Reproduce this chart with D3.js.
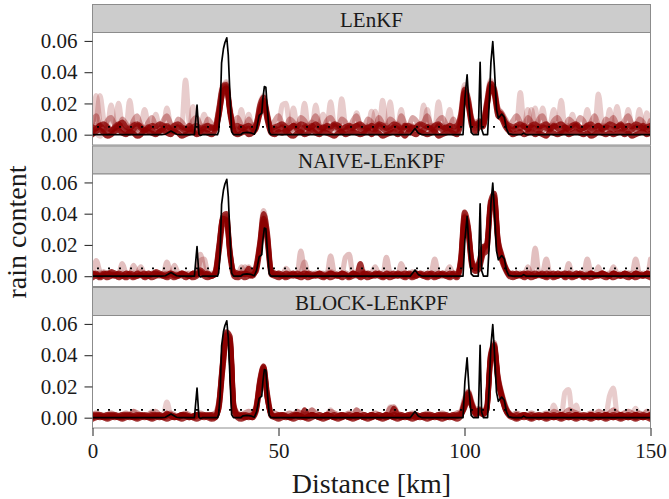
<!DOCTYPE html>
<html><head><meta charset="utf-8">
<script src="https://cdn.jsdelivr.net/npm/d3@7/dist/d3.min.js"></script>
<style>
body{margin:0;background:#fff}
svg{display:block}
</style>
</head><body>
<svg id="chart" width="669" height="499"></svg>
<script>
// ---------- data (rain content in units of 0.001) ----------
const methods = ["LEnKF", "NAIVE-LEnKPF", "BLOCK-LEnKPF"];
const distanceKm = d3.range(0, 151);           // 1 km grid for ensemble members
const xTicks = [0, 50, 100, 150];
const yTicks = [0, 0.02, 0.04, 0.06];
const threshold = 0.005;

// truth: [km, value*1000]
const truth = [
 [0,0],[18.6,0],[19.6,0.3],[21.1,2.3],[22.6,0.3],[23.5,0],[27.4,0],[28.1,19],[28.6,0.5],[29.0,-0.5],[29.5,0],
 [33.6,0],[33.9,2],[34.3,14],[34.7,46],[35.2,55],[35.6,59],[36.1,62],[36.5,51],[37.0,23],[37.4,2],[37.9,0],
 [39.8,0],[40.5,1.2],[41.5,1.5],[42.5,1.2],[43.5,0.3],[44.1,3.7],[44.8,12.3],[45.5,13.8],[45.8,23],[46.2,30.8],
 [46.6,30.4],[47.0,16.5],[47.5,1.6],[48,0],[85.4,0],[86.7,4],[87.6,1],[88.6,0],[99.6,0],[100.1,23],[100.7,38.3],
 [101.2,18.6],[101.8,1.5],[102.4,0],[103.7,0],[104.2,46.3],[104.6,3.6],[105.1,0],[106.2,0],[106.7,22.8],
 [107.1,46.3],[107.6,59.6],[108.0,44.2],[108.6,16.4],[109.1,10.5],[110.0,13.2],[110.7,11.1],[111.3,3.6],
 [111.9,0.5],[113,0],[115.3,0],[115.9,1],[116.6,0],[150,0]
];

const lenkfMembers = [
 [2,8,25,10,3,1,4,6,3,2, 5,7,4,2,1,3,5,6,4,2, 1,3,4,2,5,35,8,3,2,4, 6,3,2,5,16,30,33,14,4,2,
  3,5,4,2,6,18,24,12,3,2, 4,6,3,2,5,7,4,3,6,8, 5,3,2,4,6,5,3,23,6,3, 2,4,5,3,6,4,2,3,5,4,
  3,5,7,4,2,3,6,5,3,2, 4,6,3,5,4,2,3,5,4,12, 30,22,8,5,7,8,20,34,28,14, 12,7,4,3,5,27,6,4,3,5,
  6,4,3,5,7,4,3,2,5,6, 4,3,5,6,4,2,3,5,4,6, 5,3,4,6,5,3,2,4,5,3,2],
 [3,1,-1,2,4,19,6,3,1,2, 4,3,2,5,16,6,3,2,4,5, 3,2,4,6,3,2,1,18,5,3, 2,4,3,4,14,28,31,16,5,3,
  16,4,2,3,8,14,22,10,2,3, 5,19,20,6,3,4,5,2,3,4, 6,4,3,5,2,3,6,4,3,5, 4,14,5,3,4,6,3,2,22,5,
  3,4,2,5,6,3,4,3,6,4, 3,5,4,21,6,3,2,4,5,10, 26,20,7,4,6,6,18,32,30,16, 13,8,5,3,4,6,5,16,4,3,
  5,3,4,6,4,5,22,4,3,5, 6,4,3,2,5,4,26,7,3,4, 3,5,4,3,16,5,3,4,6,5,3],
 [1,25,8,3,5,4,2,3,6,4, 22,6,3,2,4,5,3,13,4,2, 3,5,6,4,2,3,4,2,3,5, 13,5,3,6,18,32,30,12,3,4,
  5,3,2,6,7,20,25,14,4,2, 3,4,6,5,17,5,3,4,6,3, 19,5,3,4,21,6,4,3,5,4, 3,2,4,5,3,15,4,5,3,2,
  21,5,3,4,6,5,3,4,2,19, 5,3,6,4,3,5,16,4,3,14, 32,24,10,6,8,7,22,35,27,12, 11,6,3,4,3,5,4,3,16,4,
  3,17,5,4,6,3,4,5,3,13, 4,5,3,6,4,5,3,4,6,3, 4,18,5,3,4,6,3,16,4,3,5],
 [4,6,3,2,1,3,5,20,6,4, 3,2,5,6,4,3,2,4,6,5, 17,6,4,3,2,4,5,3,2,3, 4,6,5,3,15,29,34,17,6,3,
  2,4,13,3,5,16,23,11,3,4, 6,3,4,2,3,6,5,20,4,3, 4,6,13,3,5,4,3,6,4,2, 3,5,6,4,3,2,15,4,5,6,
  4,3,5,16,3,4,5,3,6,5, 16,4,3,5,6,3,4,5,2,8, 24,18,6,4,9,7,16,30,29,17, 14,9,5,4,6,4,3,5,4,17,
  4,5,3,6,16,4,5,3,6,4, 5,3,4,16,5,3,4,6,3,16, 5,4,3,5,6,3,4,5,3,14,4],
 [5,4,6,7,5,3,4,6,8,5, 4,6,7,5,3,4,6,5,7,6, 5,4,6,7,5,4,3,5,6,4, 5,6,4,5,17,31,32,15,5,6,
  4,5,6,4,7,19,24,13,4,5, 6,7,5,4,6,5,7,6,4,5, 7,5,4,6,5,7,6,4,5,6, 5,6,7,5,4,6,5,7,6,4,
  5,7,6,4,5,6,4,5,7,6, 5,4,6,7,5,4,6,5,6,13, 29,23,9,7,8,9,21,33,29,15, 13,8,6,5,6,7,5,4,6,7,
  5,6,7,4,5,6,7,5,4,6, 7,5,4,6,7,5,6,4,5,7, 6,5,7,4,6,5,7,6,4,5,6],
 [0,2,3,1,-1,0,2,3,1,0, 2,1,-1,0,3,2,1,0,2,3, 1,0,2,1,-1,0,1,2,0,1, 2,1,0,3,12,27,30,13,2,0,
  1,2,0,1,4,13,20,9,1,0, 2,1,3,0,-1,1,2,0,1,3, 1,0,2,1,0,-1,1,2,0,1, 2,1,0,1,3,0,2,1,-1,0,
  1,2,0,1,-1,2,1,0,2,1, 0,1,2,-1,0,1,2,1,0,7, 27,19,5,2,5,5,17,31,26,12, 10,5,2,0,1,2,0,1,2,0,
  1,0,-1,2,1,0,1,2,0,1, 2,1,0,1,-1,0,2,1,0,1, 0,1,2,0,1,-1,0,1,2,0,1],
 [8,12,5,3,9,11,6,4,10,7, 3,9,12,6,4,8,11,5,3,9, 12,7,4,10,8,5,3,9,11,6, 4,10,7,5,16,30,31,14,8,11,
  6,4,10,5,6,17,21,10,5,9, 12,7,5,10,8,4,11,9,5,8, 12,6,4,9,11,7,5,10,8,4, 9,12,6,5,10,8,4,11,7,5,
  10,8,4,12,7,5,11,9,5,8, 12,6,4,9,11,7,5,10,6,11, 28,21,10,8,9,8,19,32,30,17, 14,10,6,9,12,8,5,11,8,4,
  10,12,6,5,9,11,7,4,10,8, 5,11,9,4,8,12,6,5,10,8, 11,6,4,9,12,7,5,10,8,4,9],
 [2,4,6,3,1,2,5,7,4,2, 1,3,6,4,2,5,3,1,2,4, 6,3,2,5,4,2,6,3,1,2, 4,3,5,4,13,26,29,15,3,2,
  5,3,4,2,5,15,22,12,2,4, 3,5,2,4,6,3,2,5,4,6, 3,2,5,4,3,6,4,2,3,5, 4,6,3,2,5,4,3,6,4,2,
  3,5,4,2,6,3,5,4,2,3, 5,4,2,6,3,5,4,2,3,9, 25,20,8,6,7,6,18,30,27,15, 12,7,4,3,5,4,6,3,5,4,
  2,5,4,3,6,4,2,5,3,4, 6,3,4,5,2,4,6,3,5,4, 3,5,6,4,2,3,5,4,6,3,4]
];

const naiveMembers = [
 [1,10,3,1,0,2,1,0,2,1, 0,2,1,3,1,0,2,1,0,1, 9,2,1,0,2,1,0,1,3,14, 4,1,0,2,17,36,39,14,2,1,
  3,6,2,1,5,19,38,26,3,1, 0,2,1,0,2,1,16,3,1,0, 2,1,0,1,3,2,1,0,2,1, 0,2,1,3,1,0,2,1,0,12,
  2,1,0,2,1,0,3,1,2,1, 0,2,1,0,2,1,0,2,1,10, 39,31,9,4,7,16,20,47,50,23, 12,5,2,1,0,2,1,2,1,18,
  2,1,0,2,1,0,2,1,0,1, 2,1,0,2,1,0,1,2,0,1, 2,1,0,1,2,1,11,2,1,0,1],
 [2,0,1,3,1,2,0,1,8,2, 1,7,2,0,1,2,1,0,2,1, 2,1,7,2,0,1,2,0,1,10, 11,2,1,3,19,37,38,16,3,2,
  1,2,6,2,4,21,42,27,4,2, 1,0,5,2,1,0,2,9,1,2, 0,1,2,0,13,2,1,0,2,1, 2,0,1,2,1,0,1,2,0,1,
  2,1,0,8,2,1,0,2,1,0, 1,2,11,1,0,2,1,0,2,11, 40,30,8,5,9,18,19,45,52,22, 13,6,2,0,1,2,0,1,2,1,
  0,2,11,1,0,2,1,0,8,1, 2,0,1,11,2,1,0,2,1,0, 6,2,1,0,2,1,0,2,1,0,11],
 [0,1,2,0,1,0,2,1,0,2, 1,0,2,6,1,0,2,1,0,2, 1,0,2,1,0,2,1,0,1,2, 1,0,2,1,16,35,37,13,1,0,
  6,2,1,0,6,18,36,24,2,0, 2,1,0,2,1,0,1,2,0,1, 2,0,1,2,1,0,2,1,12,14, 1,0,2,1,0,2,6,1,0,2,
  1,0,2,1,0,1,2,0,1,2, 1,0,2,1,0,2,6,1,0,9, 37,29,7,3,6,15,17,46,49,21, 11,5,1,0,2,1,0,6,1,0,
  2,1,0,2,1,0,1,2,0,1, 0,2,1,0,2,1,6,0,1,2, 1,0,2,1,0,2,1,0,2,1,0],
 [1,2,0,1,2,1,0,2,1,0, 2,1,0,1,2,0,1,2,1,0, 1,2,0,1,2,1,0,2,1,4, 2,1,0,2,18,38,40,15,2,1,
  2,1,5,1,7,22,40,28,4,1, 2,1,0,1,2,0,1,2,1,0, 1,2,0,1,2,1,0,2,1,0, 2,1,8,0,2,1,0,2,1,0,
  1,2,0,1,2,1,0,2,1,0, 2,1,0,2,1,0,2,1,0,12, 41,32,10,6,8,17,21,48,53,24, 14,6,2,1,2,0,1,2,1,0,
  1,2,0,1,2,0,1,2,1,0, 2,1,0,1,2,0,1,2,1,0, 2,1,0,2,1,0,2,1,0,2,1],
 [2,1,0,2,1,3,2,1,0,2, 1,0,2,1,0,2,1,3,2,1, 0,2,1,0,2,1,0,2,1,3, 1,2,0,3,20,37,36,14,3,2,
  1,2,1,0,5,20,37,25,3,2, 1,0,2,1,0,2,1,0,2,1, 0,2,1,0,2,1,0,2,1,0, 2,1,0,2,1,0,2,1,0,2,
  1,0,2,1,0,2,1,0,2,1, 0,2,1,0,2,1,0,2,1,9, 38,30,8,5,10,19,20,46,51,23, 12,5,1,2,0,1,2,0,1,2,
  1,0,2,1,0,2,1,0,2,1, 0,2,1,0,2,1,0,2,1,0, 2,1,0,2,1,0,2,1,0,2,1],
 [-1,0,-1,0,-1,0,1,-1,0,-1, 0,-1,0,1,-1,0,-1,0,1,0, -1,0,-1,0,1,-1,0,-1,0,2, 0,-1,0,1,15,33,36,12,0,-1,
  0,-1,0,1,3,17,35,22,1,0, -1,0,-1,0,1,0,-1,0,-1,0, 1,0,-1,0,-1,0,1,-1,0,-1, 0,1,-1,0,-1,0,1,0,-1,0,
  -1,0,1,0,-1,0,-1,0,1,0, -1,0,-1,0,1,0,-1,0,-1,7, 35,27,6,3,5,14,16,44,48,20, 10,4,0,-1,0,1,-1,0,-1,0,
  1,0,-1,0,-1,0,1,-1,0,-1, 0,1,-1,0,-1,0,1,0,-1,0, -1,0,1,0,-1,0,-1,0,1,0,-1]
];

const blockMembers = [
 [1,0,1,2,1,0,1,2,1,0, 1,4,1,0,1,2,4,1,0,1, 10,2,1,0,1,2,1,0,1,2, 1,0,1,2,8,34,52,49,6,1,
  0,1,2,1,6,22,31,14,2,1, 0,1,2,1,0,4,1,2,1,5, 1,0,1,2,5,1,0,1,2,1, 0,5,1,2,1,0,1,2,1,0,
  7,2,1,0,1,2,1,0,1,2, 1,0,1,2,1,0,1,2,1,2, 8,14,8,3,4,3,6,38,45,24, 14,6,2,1,0,1,2,1,0,1,
  2,1,0,1,8,2,1,16,18,2, 8,1,0,1,2,1,0,1,2,14, 19,3,1,0,1,2,6,1,0,1,2],
 [0,1,2,1,0,1,2,1,0,1, 2,1,0,1,2,1,0,1,2,1, 3,1,0,1,2,1,0,1,2,1, 0,1,2,1,10,36,55,52,8,2,
  1,0,1,2,7,24,33,15,3,1, 1,2,1,0,1,2,1,0,1,2, 1,0,1,2,1,0,1,2,1,0, 1,2,1,0,1,2,1,0,1,2,
  1,6,2,1,0,1,2,1,0,1, 2,1,0,1,2,1,0,1,2,3, 10,16,9,4,5,3,7,40,47,26, 15,7,3,1,0,1,2,1,0,1,
  0,1,2,1,0,1,2,1,0,1, 2,1,0,1,2,1,0,1,2,1, 0,1,2,1,0,1,2,1,0,1,2],
 [2,1,0,1,2,1,0,1,2,1, 0,1,2,1,0,1,2,1,0,1, 2,1,0,1,2,1,0,1,2,1, 2,1,0,1,6,30,49,47,5,1,
  2,1,0,1,5,20,29,12,2,1, 2,1,0,1,2,1,0,5,1,2, 1,0,1,2,1,0,1,2,1,0, 1,2,1,0,1,2,1,0,1,2,
  1,0,1,2,1,0,1,2,1,0, 1,2,1,0,1,2,1,0,1,2, 6,12,7,2,4,2,5,36,44,23, 13,5,2,1,2,1,0,1,2,1,
  0,1,2,1,0,1,2,1,0,1, 2,1,0,1,2,1,0,1,2,1, 0,1,2,1,0,1,2,1,0,1,2],
 [1,2,1,0,1,2,1,0,1,2, 1,0,1,2,1,0,1,2,1,0, 1,2,1,0,1,2,1,0,1,2, 1,2,1,0,9,35,53,50,7,2,
  1,2,1,0,6,23,32,13,2,1, 1,2,1,0,1,2,1,0,1,2, 1,2,1,0,1,2,1,0,1,2, 1,0,1,2,1,0,1,2,1,0,
  1,2,1,0,1,2,1,0,1,2, 1,0,1,2,1,0,1,2,1,2, 9,15,8,3,5,4,6,39,46,25, 14,6,2,1,0,1,2,1,0,1,
  2,1,0,1,2,1,0,1,2,1, 0,1,2,1,0,1,2,1,0,1, 2,1,0,1,2,1,0,1,2,1,0],
 [-1,0,1,0,-1,0,1,0,-1,0, 1,0,-1,0,1,0,-1,0,1,0, -1,0,1,0,-1,0,1,0,-1,0, 1,0,-1,0,7,32,50,48,4,0,
  -1,0,1,0,4,21,30,13,1,0, -1,0,1,0,-1,0,1,0,-1,0, 1,0,-1,0,1,0,-1,0,1,0, -1,0,1,0,-1,0,1,0,-1,0,
  1,0,-1,0,1,0,-1,0,1,0, -1,0,1,0,-1,0,1,0,-1,1, 7,13,7,2,3,2,5,37,45,24, 13,5,1,0,-1,0,1,0,-1,0,
  1,0,-1,0,1,0,-1,0,1,0, -1,0,1,0,-1,0,1,0,-1,0, 1,0,-1,0,1,0,-1,0,1,0,-1],
 [2,3,2,1,2,3,2,1,2,3, 2,4,3,2,1,2,3,4,2,1, 2,3,2,1,2,3,2,1,2,3, 2,1,2,3,11,37,54,51,8,3,
  2,3,4,3,8,25,33,16,4,3, 2,1,2,3,2,4,3,2,3,5, 3,2,1,2,4,3,2,1,2,3, 2,5,3,2,1,2,3,2,1,2,
  6,7,3,2,1,2,3,2,1,2, 3,2,1,2,3,2,1,2,3,4, 12,17,10,5,6,4,8,41,48,27, 16,8,3,2,3,2,1,2,3,2,
  1,2,3,2,4,3,2,3,5,4, 3,2,1,2,3,2,4,3,2,3, 5,3,2,3,4,3,2,3,2,4,3]
];

const ensembles = [lenkfMembers, naiveMembers, blockMembers];
// per-member stroke opacity (style only)
const memberOpacity = [
  [0.2, 0.2, 0.2, 0.2, 0.75, 0.85, 0.35, 0.7],
  [0.25, 0.25, 0.25, 0.8, 0.8, 0.8],
  [0.2, 0.8, 0.8, 0.8, 0.8, 0.4]
];

// ---------- layout ----------
const FONT = "Liberation Serif";
const svg = d3.select("#chart");
const left = 92.5, right = 650.5;
const period = 141.5, stripH = 28, plotH = 112.5, top0 = 4.5;
const x = d3.scaleLinear().domain([0, 150]).range([left, right]);
const red = "#8b0000";

methods.forEach((name, i) => {
  const hTop = top0 + i * period;
  const pTop = hTop + stripH;
  const pBot = pTop + plotH;
  const y = d3.scaleLinear().domain([-0.0066, 0.0654]).range([pBot, pTop]);
  const g = svg.append("g");

  // strip
  g.append("rect").attr("x", left).attr("y", hTop).attr("width", right - left).attr("height", stripH)
    .attr("fill", "#cccccc").attr("stroke", "#8c8c8c").attr("stroke-width", 1);
  g.append("text").attr("x", (left + right) / 2).attr("y", hTop + 22)
    .attr("text-anchor", "middle").attr("font-size", 21).attr("font-family", FONT).attr("fill", "#1a1a1a").text(name);

  // plot background
  g.append("rect").attr("x", left).attr("y", pTop).attr("width", right - left).attr("height", plotH)
    .attr("fill", "#fff");

  const clipId = "clip" + i;
  svg.append("clipPath").attr("id", clipId).append("rect")
    .attr("x", left).attr("y", pTop).attr("width", right - left).attr("height", plotH);
  const pg = g.append("g").attr("clip-path", `url(#${clipId})`);

  const memberLine = d3.line().x((d, j) => x(distanceKm[j])).y(d => y(d / 1000)).curve(d3.curveMonotoneX);
  pg.selectAll("path.member").data(ensembles[i]).join("path").attr("class", "member")
    .attr("d", memberLine).attr("fill", "none").attr("stroke", red)
    .attr("stroke-opacity", (d, k) => memberOpacity[i][k]).attr("stroke-width", 5.2)
    .attr("stroke-linejoin", "round").attr("stroke-linecap", "round");

  // threshold dotted line
  pg.append("path").datum([[0, threshold], [150, threshold]])
    .attr("d", d3.line().x(d => x(d[0])).y(d => y(d[1])))
    .attr("fill", "none").attr("stroke", "#000").attr("stroke-width", 1.8)
    .attr("stroke-dasharray", "2 9").attr("stroke-dashoffset", 6.5);

  // truth
  pg.append("path").datum(truth)
    .attr("d", d3.line().x(d => x(d[0])).y(d => y(d[1] / 1000)))
    .attr("fill", "none").attr("stroke", "#000").attr("stroke-width", 1.7).attr("stroke-linejoin", "round");

  // border
  g.append("rect").attr("x", left).attr("y", pTop).attr("width", right - left).attr("height", plotH)
    .attr("fill", "none").attr("stroke", "#8c8c8c").attr("stroke-width", 1);

  // y axis
  const ya = g.append("g").attr("transform", `translate(${left},0)`)
    .call(d3.axisLeft(y).tickValues(yTicks).tickSize(8).tickPadding(7).tickFormat(d3.format(".2f")));
  ya.attr("font-family", FONT).attr("font-size", 21);
  ya.select(".domain").remove();
  ya.selectAll(".tick line").attr("stroke", "#333").attr("stroke-width", 1.1);
  ya.selectAll(".tick text").attr("fill", "#1a1a1a");

  if (i === methods.length - 1) {
    const xa = g.append("g").attr("transform", `translate(0,${pBot})`)
      .call(d3.axisBottom(x).tickValues(xTicks).tickSize(8).tickPadding(7).tickFormat(d3.format("d")));
    xa.attr("font-family", FONT).attr("font-size", 21);
    xa.select(".domain").remove();
    xa.selectAll(".tick line").attr("stroke", "#333").attr("stroke-width", 1.1);
    xa.selectAll(".tick text").attr("fill", "#1a1a1a");
  }
});

// axis titles
svg.append("text").attr("x", (left + right) / 2).attr("y", 493).attr("text-anchor", "middle")
  .attr("font-size", 28).attr("font-family", FONT).attr("fill", "#1a1a1a").text("Distance [km]");
svg.append("text").attr("transform", "translate(25.5,232) rotate(-90)").attr("text-anchor", "middle")
  .attr("font-size", 28).attr("font-family", FONT).attr("fill", "#1a1a1a").text("rain content");
</script>
</body></html>
